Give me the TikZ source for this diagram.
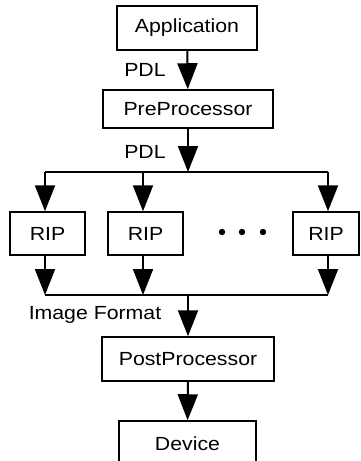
\documentclass[tikz,border=0pt]{standalone}
\usepackage{fontspec}
\setmainfont{Liberation Sans}[FakeStretch=1.12]
\usetikzlibrary{arrows.meta}
\tikzset{
  blk/.style={draw,line width=1.5pt,inner sep=0pt,font=\fontsize{19}{19}\selectfont},
  flow/.style={line width=2pt,-{Triangle[width=20pt,length=26pt]}},
  bus/.style={line width=1.8pt},
  lbl/.style={inner sep=0pt,font=\fontsize{19}{19}\selectfont},
}
\begin{document}
\begin{tikzpicture}[x=1pt,y=-1pt]
			\useasboundingbox (0,0) rectangle (361,461);
			% stages
			\node[blk,minimum width=140pt,minimum height=44pt] (app) at (187,28) {Application};
			\node[blk,minimum width=170pt,minimum height=38pt] (pre) at (188,109) {PreProcessor};
			\node[blk,minimum width=75pt,minimum height=43pt] (rip1) at (47.5,233.5) {RIP};
			\node[blk,minimum width=75pt,minimum height=43pt] (rip2) at (145.5,233.5) {RIP};
			\node[blk,minimum width=66pt,minimum height=43pt] (rip3) at (326,233.5) {RIP};
			\node[blk,minimum width=172pt,minimum height=44pt] (post) at (188,359) {PostProcessor};
			\node[blk,minimum width=137pt,minimum height=46pt] (dev) at (187.5,444) {Device};
			% labels
			\node[lbl] (pdla) at (145,70) {PDL};
			\node[lbl] (pdlb) at (145,152) {PDL};
			\node[lbl] (imgf) at (95,315) {Image Format};
			\foreach \dx in {222,242,263} \fill (\dx,232) circle (3.2pt);
			% buses
			\coordinate (s0) at (188,172);
			\coordinate (s1) at (45,172);
			\coordinate (s2) at (143,172);
			\coordinate (s3) at (328,172);
			\coordinate (m0) at (188,295);
			\coordinate (m1) at (45,295);
			\coordinate (m2) at (143,295);
			\coordinate (m3) at (328,295);
			\draw[bus] (s1) -- (s3);
			\draw[bus] (m1) -- (m3);
			% arrows
			\draw[flow] (app) -- (pre);
			\draw[flow] (pre) -- (s0);
			\draw[flow] (s1) -- (s1 |- rip1.north);
			\draw[flow] (s2) -- (s2 |- rip2.north);
			\draw[flow] (s3) -- (s3 |- rip3.north);
			\draw[flow] (m1 |- rip1.south) -- (m1);
			\draw[flow] (m2 |- rip2.south) -- (m2);
			\draw[flow] (m3 |- rip3.south) -- (m3);
			\draw[flow] (m0) -- (post);
			\draw[flow] (post) -- (dev);
		\end{tikzpicture}
\end{document}
